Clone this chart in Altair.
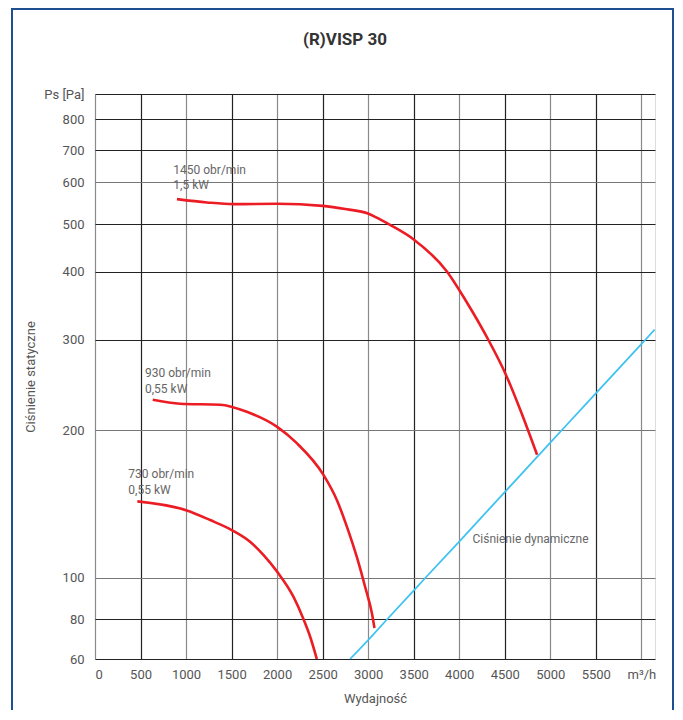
import altair as alt
import pandas as pd

# Fan curves: airflow Q [m3/h] and static pressure Ps [Pa]
q_1450 = [900, 1230, 1520, 2000, 2500, 2765, 2990, 3130, 3240, 3500, 3865, 4066, 4340, 4505, 4670, 4855]
ps_1450 = [557, 549, 545, 546, 541, 533, 524, 510, 498, 465, 400, 355, 295, 258, 219, 178]
q_930 = [634, 934, 1374, 1667, 1997, 2216, 2509, 2656, 2766, 2876, 2967, 3041, 3069]
ps_930 = [229, 225, 224, 217, 203, 188, 162, 144, 127, 110, 95, 82.5, 75]
q_730 = [465, 1008, 1264, 1502, 1703, 1849, 2000, 2179, 2289, 2363, 2436]
ps_730 = [143, 137, 131, 125, 118.3, 111.2, 102.8, 90.2, 80, 70.4, 60]
# Dynamic pressure line
q_dyn = [2802, 3000, 3211, 3500, 3632, 4000, 4500, 5000, 5128, 5500, 6000, 6047, 6146]
ps_dyn = [60, 68.7, 80, 93.2, 100, 118.4, 149.4, 188.4, 200, 235.7, 293.9, 300, 312.7]

# Annotations
label_text = ["1450 obr/min", "1,5 kW", "930 obr/min", "0,55 kW", "730 obr/min", "0,55 kW", "Ciśnienie dynamiczne"]
label_q = [860, 860, 549, 549, 366, 366, 4146]
label_ps = [636, 592, 258.6, 240, 163, 151, 119.7]
chart_title = "(R)VISP 30"

# Axis ticks
x_ticks = [0, 500, 1000, 1500, 2000, 2500, 3000, 3500, 4000, 4500, 5000, 5500, 6000]
y_ticks = [60, 80, 100, 200, 300, 400, 500, 600, 700, 800, 900]
y_tick_pos = [565, 525, 483.5, 336, 245.5, 177.5, 130, 88, 56, 25, 0]

rows = []
for name, qs, ps in [("1450", q_1450, ps_1450), ("930", q_930, ps_930), ("730", q_730, ps_730)]:
    for q, p in zip(qs, ps):
        rows.append({"series": name, "q": q, "ps": p})
fan = pd.DataFrame(rows)
dyn = pd.DataFrame({"q": q_dyn, "ps": ps_dyn})
labels = pd.DataFrame({"text": label_text, "q": label_q, "ps": label_ps})

FONT = "Roboto"

xscale = alt.Scale(domain=[0, 6150], nice=False, zero=False)
yscale = alt.Scale(type="log", domain=y_ticks, range=y_tick_pos, nice=False, zero=False)

xaxis = alt.Axis(
    values=x_ticks, title="Wydajność", grid=True,
    gridColor={"condition": {"test": "datum.value % 1000 === 0", "value": "#8a8a8a"}, "value": "#222222"},
    gridWidth=1.2, ticks=False, domain=False, labelPadding=9, labelFontSize=13,
    labelColor="#555", labelFont=FONT, labelOverlap=False,
    labelExpr="datum.value == 6000 ? 'm³/h' : format(datum.value, 'd')",
    titleFont=FONT, titleFontSize=13, titleFontWeight="normal", titleColor="#555", titlePadding=11,
)
yaxis = alt.Axis(
    values=y_ticks, title="Ciśnienie statyczne", grid=True,
    gridColor={"condition": {"test": "indexof([100, 200, 600], datum.value) >= 0", "value": "#777777"}, "value": "#222222"},
    gridWidth=1.1, ticks=False, domain=False, labelPadding=11, labelFontSize=13,
    labelColor="#555", labelFont=FONT, labelOverlap=False, labelBaseline="middle",
    labelExpr="datum.value == 900 ? 'Ps [Pa]' : format(datum.value, 'd')",
    titleFont=FONT, titleFontSize=13, titleFontWeight="normal", titleColor="#555", titlePadding=6,
)

fan_lines = alt.Chart(fan).mark_line(interpolate="monotone", strokeWidth=2.6, color="#ec1c24", strokeCap="butt").encode(
    x=alt.X("q:Q", scale=xscale, axis=xaxis),
    y=alt.Y("ps:Q", scale=yscale, axis=yaxis),
    detail="series:N",
)

dyn_line = alt.Chart(dyn).mark_line(strokeWidth=1.8, color="#3fc3f0").encode(
    x=alt.X("q:Q", scale=xscale),
    y=alt.Y("ps:Q", scale=yscale),
)

texts = alt.Chart(labels).mark_text(align="left", baseline="middle", font=FONT, fontSize=12, color="#666").encode(
    x=alt.X("q:Q", scale=xscale),
    y=alt.Y("ps:Q", scale=yscale),
    text="text:N",
)

title = alt.Chart(alt.Data(values=[{"t": chart_title}])).mark_text(
    font=FONT, fontSize=17, fontWeight="bold", color="#333", align="center", baseline="middle"
).encode(x=alt.value(250), y=alt.value(-54), text="t:N")

frame = alt.Chart(alt.Data(values=[{}])).mark_rect(fill="transparent", stroke="#1d4f91", strokeWidth=2).encode(
    x=alt.value(-83), x2=alt.value(578), y=alt.value(-85), y2=alt.value(720),
)

chart = alt.layer(frame, fan_lines, dyn_line, texts, title).properties(
    width=560, height=565,
    autosize=alt.AutoSizeParams(type="none"),
    padding={"left": 87, "top": 86, "right": 20, "bottom": 51},
).configure_view(stroke="#222", strokeWidth=1.2).configure(background="white")

chart.save("out.html", embed_options={"renderer": "svg", "actions": False})
